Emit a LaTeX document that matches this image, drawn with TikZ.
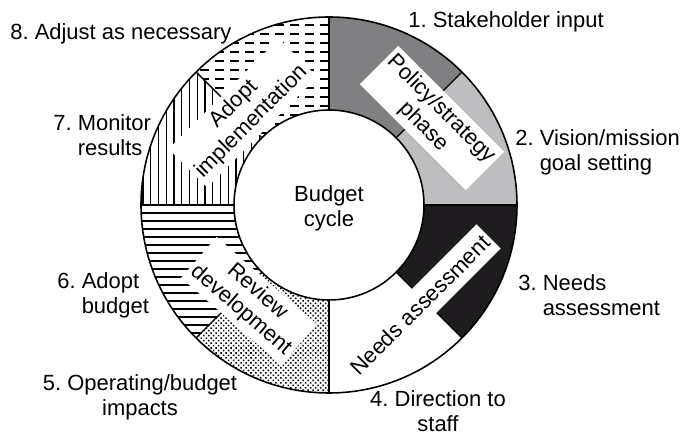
\documentclass[tikz,border=0pt]{standalone}
\usepackage{fontspec}
\setmainfont{Liberation Sans}
\usetikzlibrary{patterns.meta}
\definecolor{darkfill}{RGB}{128,128,130}
\definecolor{lightfill}{RGB}{190,190,192}
\definecolor{blackfill}{RGB}{30,28,30}
\tikzstyle{phase}=[fill=white,align=center,inner xsep=2pt,inner ysep=2.5pt]
\tikzstyle{stage}=[inner sep=0pt]
\tikzstyle{hatch}=[line width=0.8pt]
\tikzstyle{dashrow}=[line width=0.6pt,dash pattern=on 0.18cm off 0.12cm]
\tikzstyle{divider}=[line width=0.8pt]
\tikzstyle{ring}=[line width=0.9pt]
\newcommand{\rinner}{1.9}
\newcommand{\router}{3.76}
\frenchspacing

\begin{document}
\begin{tikzpicture}[font=\fontsize{12.5}{14.2}\selectfont]
        \useasboundingbox (-6.58,-4.6) rectangle (7.16,4.1);
        \foreach \a/\b/\c in {45/90/darkfill,0/45/lightfill,-45/0/blackfill}
          \fill[\c] (\a:\rinner) arc[start angle=\a,end angle=\b,radius=\rinner] -- (\b:\router) arc[start angle=\b,end angle=\a,radius=\router] -- cycle;
        \fill[pattern={Dots[distance=2pt,angle=45,radius=0.62pt]}] (225:\rinner) arc[start angle=225,end angle=270,radius=\rinner] -- (270:\router) arc[start angle=270,end angle=225,radius=\router] -- cycle;
        \begin{scope}
          \clip (180:\rinner) arc[start angle=180,end angle=225,radius=\rinner] -- (225:\router) arc[start angle=225,end angle=180,radius=\router] -- cycle;
          \foreach \y in {0.16,0.32,...,3.84} \draw[hatch] (-\router,-\y) -- (0,-\y);
        \end{scope}
        \begin{scope}
          \clip (135:\rinner) arc[start angle=135,end angle=180,radius=\rinner] -- (180:\router) arc[start angle=180,end angle=135,radius=\router] -- cycle;
          \foreach \x in {0.155,0.31,...,3.8} \draw[hatch] (-\x,0) -- (-\x,\router);
        \end{scope}
        \begin{scope}
          \clip (90:\rinner) arc[start angle=90,end angle=135,radius=\rinner] -- (135:\router) arc[start angle=135,end angle=90,radius=\router] -- cycle;
          \foreach \y in {0.18,0.36,...,3.78} \draw[dashrow] (0,\y) -- (-\router,\y);
        \end{scope}
        \foreach \a in {0,45,...,315} \draw[divider] (\a:\rinner) -- (\a:\router);
        \node[phase,rotate=-45] (policy) at (2.06,1.74) {Policy/strategy\\phase};
        \node[phase,rotate=45,minimum height=0.68cm] (needs) at (1.82,-2.0) {Needs assessment};
        \node[phase,rotate=-41] (review) at (-1.6,-1.92) {Review\\development};
        \node[phase,rotate=45] (adopt) at (-1.72,1.84) {Adopt\\implementation};
        \draw[ring] (0,0) circle[radius=\router];
        \draw[ring,fill=white] (0,0) circle[radius=\rinner];
        \node[align=center] (budget) at (0,-0.06) {Budget\\cycle};
        \node[stage,anchor=west] (stakeholder) at (1.58,3.66) {1. Stakeholder input};
        \node[stage,anchor=west,align=left] (vision) at (3.72,1.06) {2. Vision/mission\\\phantom{2. }goal setting};
        \node[stage,anchor=west,align=left] (assess) at (3.78,-1.80) {3. Needs\\\phantom{3. }assessment};
        \node[stage,align=center] (direction) at (2.18,-4.12) {4. Direction to\\staff};
        \node[stage,align=center] (impacts) at (-3.78,-3.84) {5. Operating/budget\\impacts};
        \node[stage,anchor=west,align=left] (adoptbudget) at (-5.44,-1.80) {6. Adopt\\\phantom{6. }budget};
        \node[stage,anchor=west,align=left] (monitor) at (-5.52,1.40) {7. Monitor\\\phantom{7. }results};
        \node[stage,anchor=west] (adjust) at (-6.38,3.42) {8. Adjust as necessary};
      \end{tikzpicture}
\end{document}
